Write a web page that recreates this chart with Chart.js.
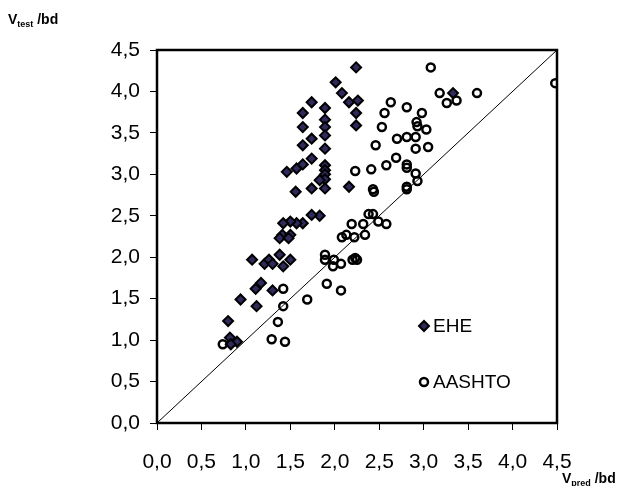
<!DOCTYPE html>
<html>
<head>
<meta charset="utf-8">
<script src="https://cdn.jsdelivr.net/npm/chart.js@4/dist/chart.umd.min.js"></script>
<style>
  html, body { margin: 0; padding: 0; background: #fff; }
  #wrap { width: 626px; height: 486px; }
</style>
</head>
<body>
<div id="wrap"><canvas id="myChart" width="626" height="486"></canvas></div>
<script>
// data
var axisTicks = [0, 0.5, 1, 1.5, 2, 2.5, 3, 3.5, 4, 4.5];

var ehePredX = [2.24, 2.01, 2.08, 2.16, 2.26, 2.24, 2.24, 1.74, 1.64, 1.89, 1.89, 1.64, 1.89, 1.89, 1.74,
  1.64, 1.89, 1.74, 1.64, 1.89, 1.89, 1.57, 1.46, 1.89, 1.89, 1.83, 1.89, 1.74, 1.56, 2.16,
  1.83, 1.74, 1.64, 1.57, 1.50, 1.42, 1.41, 1.50, 1.38, 1.48, 1.07, 1.21, 1.26, 1.30, 1.38,
  1.50, 1.42, 1.11, 1.17, 1.30, 0.94, 1.12, 0.80, 0.82, 0.90, 0.83, 3.33];
var eheTestY = [4.29, 4.11, 3.98, 3.87, 3.89, 3.74, 3.59, 3.87, 3.74, 3.80, 3.66, 3.57, 3.57, 3.47, 3.43,
  3.35, 3.31, 3.19, 3.12, 3.11, 3.05, 3.07, 3.03, 3.00, 2.94, 2.93, 2.83, 2.83, 2.79, 2.85,
  2.50, 2.51, 2.41, 2.41, 2.43, 2.41, 2.27, 2.27, 2.23, 2.23, 1.97, 1.92, 1.97, 1.92, 2.03,
  1.97, 1.89, 1.62, 1.69, 1.60, 1.49, 1.41, 1.23, 1.03, 0.98, 0.95, 3.98];

var aashtoPredX = [3.08, 4.48, 3.18, 3.26, 3.37, 3.60, 2.63, 2.81, 2.56, 2.98, 2.92, 2.93, 3.03, 2.53, 2.70,
  2.81, 2.91, 2.46, 2.91, 3.05, 2.69, 2.58, 2.81, 2.81, 2.91, 2.93, 2.23, 2.41, 2.43, 2.44,
  2.81, 2.81, 2.38, 2.43, 2.49, 2.58, 2.19, 2.32, 2.13, 2.22, 2.34, 2.08, 2.23, 2.20, 2.25,
  1.89, 1.89, 1.99, 1.98, 2.07, 1.42, 1.91, 2.07, 1.69, 1.42, 1.36, 1.29, 1.44, 0.74];
var aashtoTestY = [4.29, 4.10, 3.98, 3.86, 3.89, 3.98, 3.87, 3.81, 3.74, 3.74, 3.63, 3.58, 3.54, 3.57, 3.43,
  3.45, 3.45, 3.35, 3.31, 3.33, 3.20, 3.11, 3.12, 3.08, 3.01, 2.92, 3.04, 3.06, 2.82, 2.79,
  2.85, 2.82, 2.52, 2.52, 2.43, 2.40, 2.40, 2.40, 2.27, 2.24, 2.27, 2.24, 1.99, 1.97, 1.97,
  2.03, 1.97, 1.97, 1.89, 1.92, 1.62, 1.68, 1.60, 1.49, 1.41, 1.22, 1.01, 0.98, 0.95];

var seriesNames = ['EHE', 'AASHTO'];
var yTitle = ['V', 'test', ' /bd'];
var xTitle = ['V', 'pred', ' /bd'];

function toPoints(xs, ys) {
  var pts = [];
  for (var i = 0; i < xs.length; i++) pts.push({x: xs[i], y: ys[i]});
  return pts;
}

var FONT = '"Liberation Sans", Arial, sans-serif';

function fmt(v) {
  return v.toFixed(1).replace('.', ',');
}

// write V + subscript + /bd
function subText(ctx, parts, x, y, big, small) {
  ctx.textBaseline = 'alphabetic';
  ctx.textAlign = 'left';
  ctx.font = 'bold ' + big + 'px ' + FONT;
  ctx.fillText(parts[0], x, y);
  x += ctx.measureText(parts[0]).width;
  ctx.font = 'bold ' + small + 'px ' + FONT;
  ctx.fillText(parts[1], x, y + 3);
  x += ctx.measureText(parts[1]).width;
  ctx.font = 'bold ' + big + 'px ' + FONT;
  ctx.fillText(parts[2], x, y);
}

var extras = {
  id: 'extras',
  afterDraw: function(chart) {
    var ctx = chart.ctx;
    var a = chart.chartArea;
    ctx.save();
    // frame
    ctx.strokeStyle = '#000';
    ctx.lineWidth = 2.5;
    ctx.strokeRect(a.left, a.top, a.right - a.left, a.bottom - a.top);

    ctx.fillStyle = '#000';
    subText(ctx, yTitle, 8, 24, 14, 9);
    subText(ctx, xTitle, 562, 483, 14, 9);

    // legend inside the plot
    var lx = 424;
    var rows = [326, 382];
    for (var i = 0; i < 2; i++) {
      var ds = chart.data.datasets[i];
      ctx.fillStyle = ds.backgroundColor;
      ctx.strokeStyle = ds.borderColor;
      ctx.lineWidth = ds.borderWidth;
      ctx.beginPath();
      if (i === 0) {
        var r = ds.pointRadius;
        ctx.moveTo(lx - r, rows[i]); ctx.lineTo(lx, rows[i] - r);
        ctx.lineTo(lx + r, rows[i]); ctx.lineTo(lx, rows[i] + r);
        ctx.closePath();
        ctx.fill(); ctx.stroke();
      } else {
        ctx.arc(lx, rows[i], ds.pointRadius, 0, Math.PI * 2);
        ctx.stroke();
      }
      ctx.fillStyle = '#000';
      ctx.font = '19px ' + FONT;
      ctx.textBaseline = 'middle';
      ctx.textAlign = 'left';
      ctx.fillText(seriesNames[i], 433, rows[i] + 1);
    }
    ctx.restore();
  }
};

var ctx = document.getElementById('myChart').getContext('2d');
var chart = new Chart(ctx, {
  type: 'scatter',
  data: {
    datasets: [{
      label: seriesNames[0],
      data: toPoints(ehePredX, eheTestY),
      pointStyle: 'rectRot',
      pointRadius: 5,
      backgroundColor: '#2e2a5c',
      borderColor: '#000',
      borderWidth: 2,
      order: 2
    }, {
      label: seriesNames[1],
      data: toPoints(aashtoPredX, aashtoTestY),
      pointStyle: 'circle',
      pointRadius: 4,
      backgroundColor: 'rgba(0,0,0,0)',
      borderColor: '#000',
      borderWidth: 2.5,
      order: 1
    }, {
      type: 'line',
      label: 'line',
      data: [{x: axisTicks[0], y: axisTicks[0]}, {x: axisTicks[axisTicks.length - 1], y: axisTicks[axisTicks.length - 1]}],
      borderColor: '#000',
      borderWidth: 1,
      pointRadius: 0,
      fill: false,
      order: 3
    }]
  },
  options: {
    responsive: false,
    animation: false,
    layout: { padding: { left: 0, right: 69, top: 50, bottom: 0 } },
    plugins: {
      legend: { display: false },
      tooltip: { enabled: false }
    },
    scales: {
      x: {
        type: 'linear',
        min: 0, max: 4.5,
        afterBuildTicks: function(s) { s.ticks = axisTicks.map(function(v) { return {value: v}; }); },
        afterFit: function(s) { s.height = 63; },
        grid: { drawOnChartArea: false, drawTicks: true, tickLength: 7, color: '#000', lineWidth: 1 },
        border: { display: false },
        ticks: {
          color: '#000',
          font: { family: FONT, size: 21 },
          padding: 20,
          maxRotation: 0,
          callback: function(v) { return fmt(v); }
        }
      },
      y: {
        type: 'linear',
        min: 0, max: 4.5,
        afterBuildTicks: function(s) { s.ticks = axisTicks.map(function(v) { return {value: v}; }); },
        afterFit: function(s) { s.width = 157; },
        grid: { drawOnChartArea: false, drawTicks: true, tickLength: 7, color: '#000', lineWidth: 1 },
        border: { display: false },
        ticks: {
          color: '#000',
          font: { family: FONT, size: 21 },
          padding: 10,
          callback: function(v) { return fmt(v); }
        }
      }
    }
  },
  plugins: [extras]
});
</script>
</body>
</html>
